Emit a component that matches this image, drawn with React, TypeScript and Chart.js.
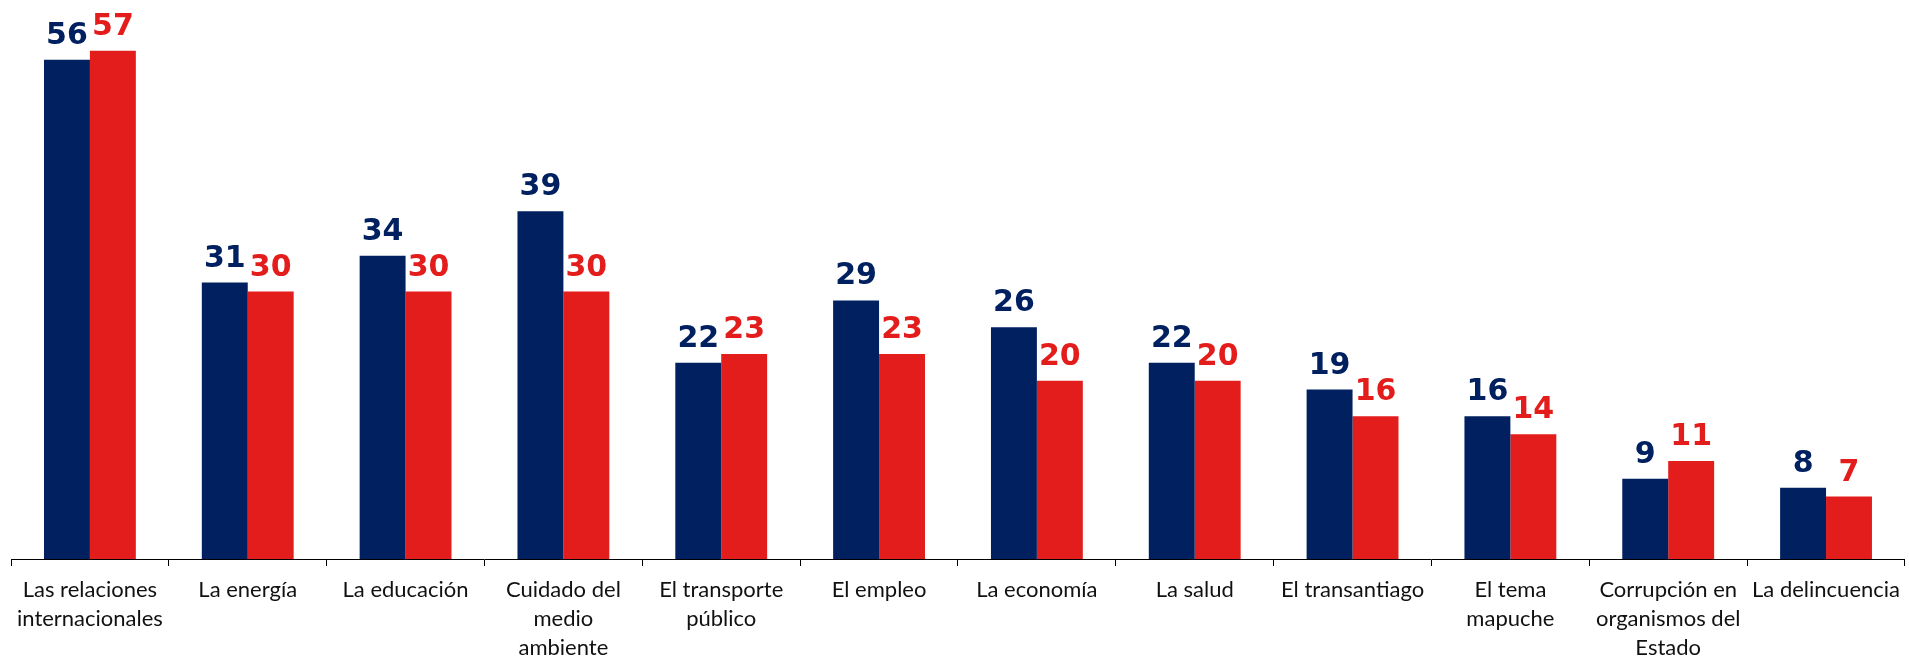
import React, { useEffect, useRef } from "react";
import { Chart, registerables } from "chart.js";

Chart.register(...registerables);

const categories: (string | string[])[] = [
  ["Las relaciones", "internacionales"],
  "La energía",
  "La educación",
  ["Cuidado del", "medio", "ambiente"],
  ["El transporte", "público"],
  "El empleo",
  "La economía",
  "La salud",
  "El transantiago",
  ["El tema", "mapuche"],
  ["Corrupción en", "organismos del", "Estado"],
  "La delincuencia",
];

const seriesA: number[] = [56, 31, 34, 39, 22, 29, 26, 22, 19, 16, 9, 8];
const seriesB: number[] = [57, 30, 30, 30, 23, 23, 20, 20, 16, 14, 11, 7];

const NAVY = "#012060";
const RED = "#E31D1C";

const W = 1909;
const H = 658;

const labelPlugin = {
  id: "barValueLabels",
  afterDatasetsDraw(chart: any) {
    const ctx = chart.ctx;
    chart.data.datasets.forEach((ds: any, i: number) => {
      const meta = chart.getDatasetMeta(i);
      meta.data.forEach((bar: any, j: number) => {
        ctx.save();
        ctx.font = 'bold 30px "DejaVu Sans"';
        ctx.fillStyle = ds.backgroundColor;
        ctx.textAlign = "center";
        ctx.textBaseline = "alphabetic";
        ctx.fillText(String(ds.data[j]), bar.x, bar.y - 16);
        ctx.restore();
      });
    });
  },
};

export default function App() {
  const ref = useRef<HTMLCanvasElement | null>(null);

  useEffect(() => {
    document.body.style.margin = "0";
    document.body.style.overflow = "hidden";
    if (!ref.current) return;
    const chart = new Chart(ref.current, {
      type: "bar",
      data: {
        labels: categories,
        datasets: [
          {
            label: "A",
            data: seriesA,
            backgroundColor: NAVY,
            borderWidth: 0,
            barPercentage: 1,
            categoryPercentage: 0.582,
          },
          {
            label: "B",
            data: seriesB,
            backgroundColor: RED,
            borderWidth: 0,
            barPercentage: 1,
            categoryPercentage: 0.582,
          },
        ],
      },
      options: {
        responsive: false,
        animation: false,
        devicePixelRatio: 1,
        layout: { padding: { left: 11, right: 0, top: 24, bottom: 0 } },
        plugins: {
          legend: { display: false },
          tooltip: { enabled: false },
        },
        scales: {
          x: {
            offset: true,
            grid: {
              display: true,
              offset: true,
              drawOnChartArea: false,
              drawTicks: true,
              tickLength: 7,
              tickWidth: 1,
              tickColor: "#000",
            },
            border: { display: true, color: "#000", width: 1 },
            ticks: {
              autoSkip: false,
              maxRotation: 0,
              minRotation: 0,
              padding: 9,
              color: "#111",
              font: { family: "Lato", size: 22, lineHeight: 1.32 },
            },
            afterFit: (scale: any) => {
              scale.height = 99;
            },
          },
          y: {
            display: false,
            min: 0,
            max: 60,
            beginAtZero: true,
          },
        },
      },
      plugins: [labelPlugin],
    });
    return () => chart.destroy();
  }, []);

  return (
    <div style={{ width: W, height: H, overflow: "hidden", position: "relative" }}>
      <canvas ref={ref} width={W} height={H} style={{ display: "block", width: W, height: H }} />
    </div>
  );
}
